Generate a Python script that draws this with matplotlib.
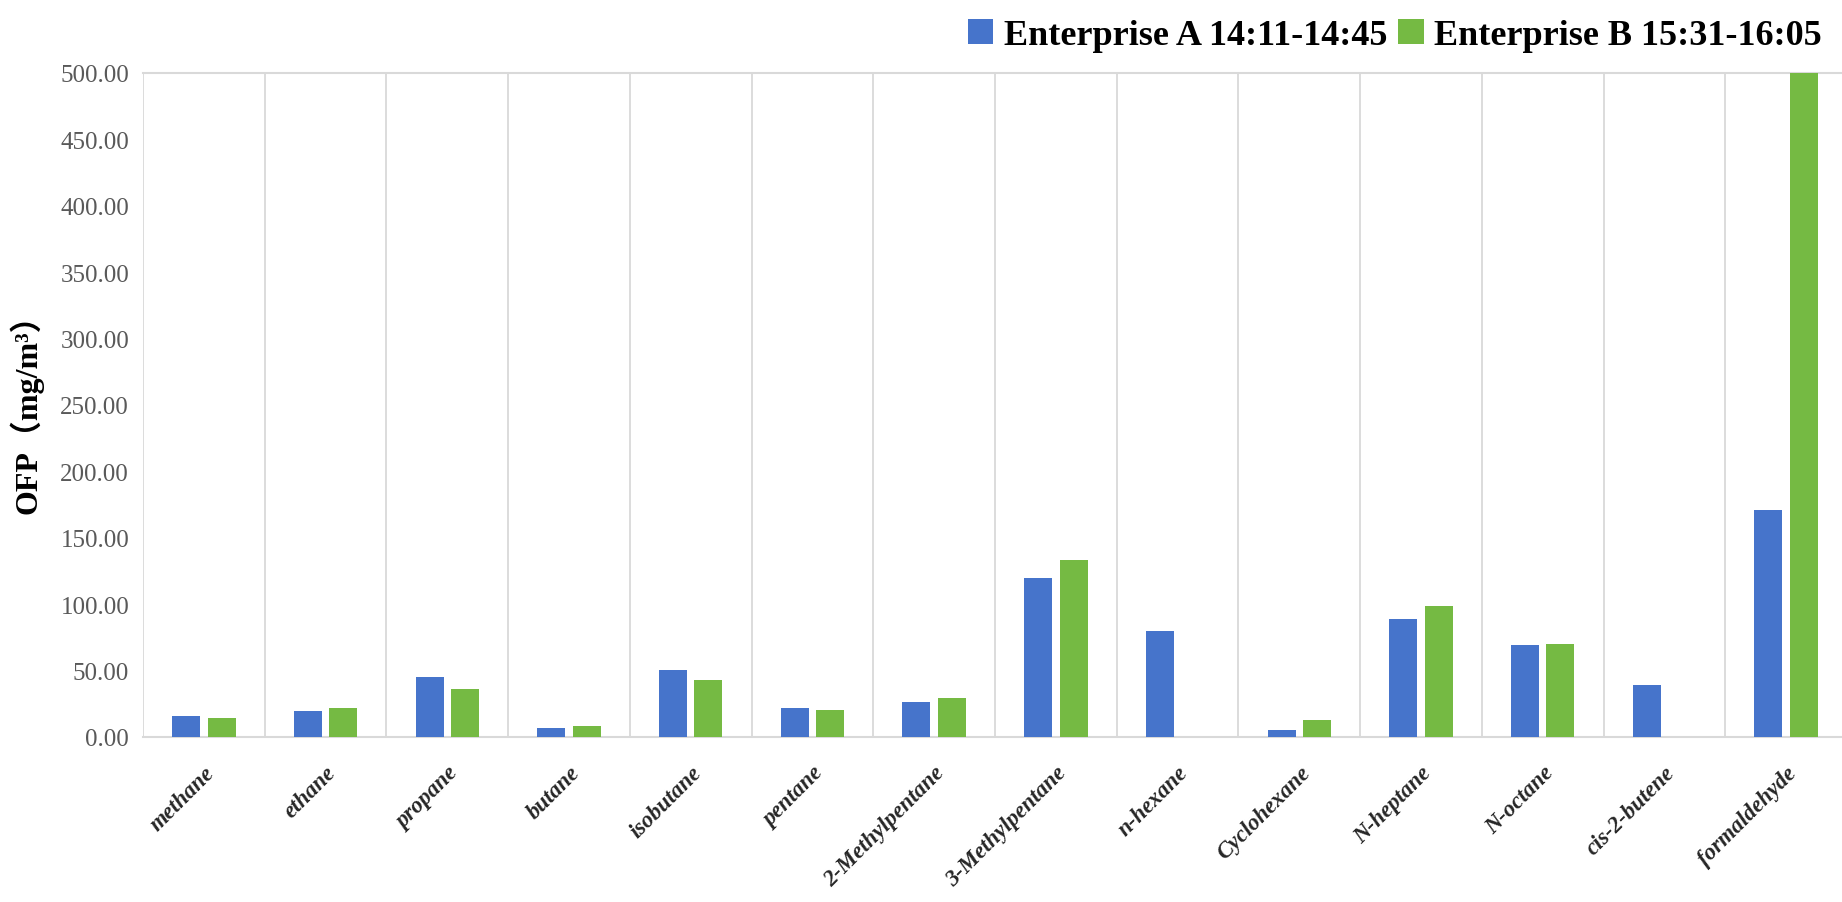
import numpy as np
import matplotlib
matplotlib.use('Agg')
import matplotlib.pyplot as plt

# values (OFP, mg/m3)
compounds = ['methane', 'ethane', 'propane', 'butane', 'isobutane', 'pentane',
             '2-Methylpentane', '3-Methylpentane', 'n-hexane', 'Cyclohexane',
             'N-heptane', 'N-octane', 'cis-2-butene', 'formaldehyde']
ent_a = [15.5, 19.5, 45.0, 7.0, 50.5, 22.0, 26.5, 120.0, 80.0, 5.5, 88.5, 69.0, 39.0, 171.0]
ent_b = [14.0, 22.0, 36.5, 8.0, 43.0, 20.5, 29.0, 133.0, 0.0, 12.5, 99.0, 70.0, 0.0, 520.0]
label_a = 'Enterprise A 14:11-14:45'
label_b = 'Enterprise B 15:31-16:05'
yticks = np.arange(0, 501, 50)

blue = '#4674CB'
green = '#75BA43'
grid_c = '#D9D9D9'
serif = ['Liberation Serif', 'Noto Sans CJK SC', 'DejaVu Sans']

fig = plt.figure(figsize=(18.42, 9.03), dpi=100)
ax = fig.add_axes([143/1842, 165/903, 1704/1842, 664/903])

x = np.arange(len(compounds))
w = 0.23
ax.bar(x - 0.145, ent_a, width=w, color=blue, label=label_a, zorder=3)
ax.bar(x + 0.145, ent_b, width=w, color=green, label=label_b, zorder=3)

ax.set_xlim(-0.5, len(compounds) - 0.5)
ax.set_ylim(0, 500)

# vertical separators between categories
for b in np.arange(-0.5, len(compounds), 1.0):
    ax.axvline(b, color=grid_c, lw=1.3, zorder=1)

for s in ['left', 'right']:
    ax.spines[s].set_visible(False)
for s in ['top', 'bottom']:
    ax.spines[s].set_color(grid_c)
    ax.spines[s].set_linewidth(1.5)

ax.set_yticks(yticks)
ax.set_yticklabels([f'{v:.2f}' for v in yticks], family=serif, fontsize=18, color='#595959')
ax.tick_params(axis='y', length=0, pad=10)

ax.set_xticks(x)
ax.set_xticklabels(compounds, rotation=45, ha='right', rotation_mode='anchor',
                   family=serif, fontsize=16.5, fontweight='bold', style='italic', color='#262626')
ax.tick_params(axis='x', length=0, pad=18)

ax.set_ylabel('OFP（mg/m³）', family=serif, fontsize=23, fontweight='bold', labelpad=12)

fig.legend(loc='upper right', bbox_to_anchor=(1.0, 1.0), ncol=2, frameon=False,
           prop={'family': serif, 'size': 26, 'weight': 'bold'},
           handlelength=0.7, handleheight=0.7, handletextpad=0.3, columnspacing=0.3,
           borderaxespad=0.15)

fig.savefig('out.png', dpi=100)
